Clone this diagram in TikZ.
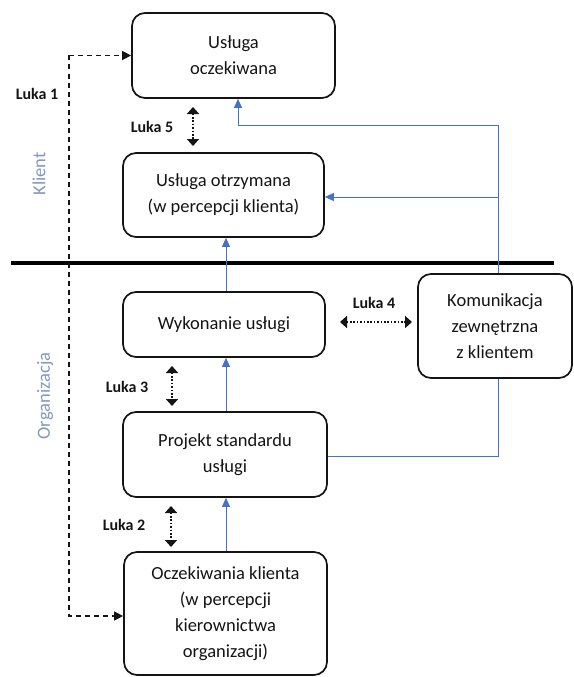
\documentclass[tikz,border=0pt]{standalone}
\usepackage{fontspec}
\setmainfont{Carlito}
\usetikzlibrary{arrows.meta}
\definecolor{flow}{RGB}{68,114,196}
\definecolor{zone}{RGB}{132,151,190}
\definecolor{ink}{RGB}{20,20,20}
\begin{document}
\begin{tikzpicture}[x=1pt,y=-1pt,
  box/.style={draw=ink, line width=1.7pt, rounded corners=13pt, inner sep=0pt,
    align=center, text=ink, font=\fontsize{18.5}{26}\selectfont},
  luka/.style={font=\bfseries\fontsize{16}{18}\selectfont, text=ink},
  zonelbl/.style={font=\fontsize{18.5}{20}\selectfont, text=zone, rotate=90},
  flowline/.style={draw=flow, line width=1pt},
  flowarr/.style={flowline, -{Triangle[width=8pt,length=9pt]}},
  gap/.style={draw=ink, line width=2pt, dash pattern=on 1.6pt off 1.8pt,
    {Triangle[width=12pt,length=7pt]}-{Triangle[width=12pt,length=7pt]}},
  hint/.style={draw=ink, line width=1.2pt, dash pattern=on 5pt off 4pt,
    -{Triangle[width=9pt,length=9pt]}}]
\useasboundingbox (0,0) rectangle (573,677);

% process boxes
\node[box, minimum width=203pt, minimum height=85pt] (b1) at (233.5,55.5) {Usługa\\oczekiwana};
\node[box, minimum width=201pt, minimum height=84pt] (b2) at (223.5,195) {Usługa otrzymana\\(w percepcji klienta)};
\node[box, minimum width=202pt, minimum height=65pt] (b3) at (224,324.5) {Wykonanie usługi};
\node[box, minimum width=204pt, minimum height=85pt] (b4) at (225,454.5) {Projekt standardu\\usługi};
\node[box, minimum width=203pt, minimum height=123pt] (b5) at (225.5,613.5) {Oczekiwania klienta\\(w percepcji\\kierownictwa\\organizacji)};
\node[box, minimum width=154pt, minimum height=104pt] (kom) at (495,326) {Komunikacja\\zewnętrzna\\z klientem};

% boundary between client and organisation
\coordinate (sepL) at (11,263);
\coordinate (sepR) at (554,263);
\draw[line width=4pt] (sepL) -- (sepR);

% zone labels
\node[zonelbl] (klient) at (39,174) {Klient};
\node[zonelbl] (org) at (45,396) {Organizacja};

% main flow upward
\coordinate (ax) at (226,0);
\draw[flowarr] (b5.north -| ax) -- (b4.south -| ax);
\draw[flowarr] (b4.north -| ax) -- (b3.south -| ax);
\draw[flowarr] (b3.north -| ax) -- (b2.south -| ax);

% external communication links
\coordinate (kx) at (498,0);
\coordinate (kt) at (238,125);
\coordinate (kb) at (498,197);
\coordinate (kd) at (498,456);
\draw[flowarr] (kom.north -| kx) |- (kt) -- (kt |- b1.south);
\draw[flowarr] (kb) -- (kb -| b2.east);
\draw[flowline] (kom.south -| kx) -- (kd) -- (kd -| b4.east);

% gap 1: dashed loop
\coordinate (dt) at (69,55.5);
\coordinate (dd) at (69,616);
\draw[hint] (dt) -- (dt -| b1.west);
\draw[hint] (dt) -- (dd) -- (dd -| b5.west);

% gaps 2-5
\coordinate (g5a) at (193,107);
\coordinate (g5b) at (193,146);
\coordinate (g3a) at (172,366);
\coordinate (g3b) at (172,406);
\coordinate (g2a) at (171,506);
\coordinate (g2b) at (171,547);
\coordinate (g4a) at (340,322);
\coordinate (g4b) at (412,322);
\draw[gap] (g5a) -- (g5b);
\draw[gap] (g3a) -- (g3b);
\draw[gap] (g2a) -- (g2b);
\draw[gap] (g4a) -- (g4b);

\node[luka] (l1) at (37,94) {Luka 1};
\node[luka] (l5) at (152,127) {Luka 5};
\node[luka] (l3) at (127,387) {Luka 3};
\node[luka] (l2) at (124,525) {Luka 2};
\node[luka] (l4) at (374,303) {Luka 4};
\end{tikzpicture}
\end{document}
